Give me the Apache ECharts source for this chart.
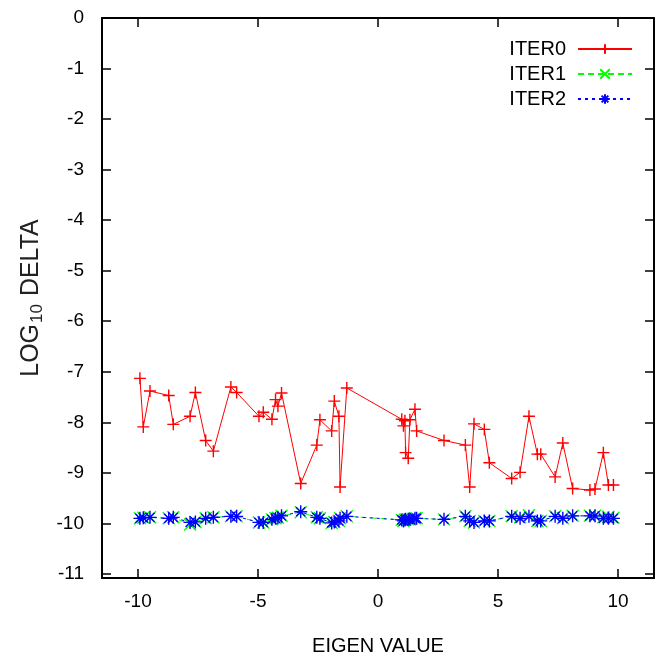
<!DOCTYPE html>
<html>
<head>
<meta charset="utf-8">
<script src="https://cdn.jsdelivr.net/npm/echarts@6/dist/echarts.min.js"></script>
<style>html,body{margin:0;padding:0;background:#fff}#c{width:662px;height:661px}</style>
</head>
<body>
<div id="c"></div>
<script>
var eigenValues = [-9.92,-9.78,-9.50,-8.72,-8.53,-7.83,-7.61,-7.18,-6.86,-6.13,-5.89,-4.96,-4.78,-4.42,-4.27,-4.17,-4.02,-3.22,-2.55,-2.42,-1.93,-1.82,-1.63,-1.58,-1.30,0.99,1.06,1.12,1.15,1.26,1.33,1.54,1.61,2.75,3.64,3.82,4.00,4.43,4.64,5.57,5.92,6.29,6.64,6.78,7.38,7.70,8.11,8.83,9.04,9.39,9.60,9.81];
var iter0 = [-7.13,-8.09,-7.38,-7.47,-8.04,-7.88,-7.41,-8.36,-8.57,-7.30,-7.41,-7.88,-7.80,-7.94,-7.55,-7.68,-7.42,-9.21,-8.45,-7.95,-8.17,-7.58,-7.88,-9.28,-7.32,-7.94,-8.07,-7.97,-8.60,-8.71,-7.95,-7.74,-8.17,-8.36,-8.45,-9.28,-8.03,-8.14,-8.80,-9.11,-8.99,-7.88,-8.63,-8.63,-9.08,-8.41,-9.31,-9.34,-9.32,-8.60,-9.24,-9.24];
var iter1 = [-9.90,-9.89,-9.88,-9.90,-9.88,-10.02,-9.97,-9.90,-9.88,-9.86,-9.86,-9.98,-9.98,-9.92,-9.90,-9.89,-9.85,-9.78,-9.88,-9.90,-9.99,-9.97,-9.95,-9.90,-9.86,-9.93,-9.95,-9.93,-9.92,-9.92,-9.92,-9.90,-9.90,-9.92,-9.86,-9.95,-9.98,-9.95,-9.95,-9.86,-9.88,-9.84,-9.95,-9.95,-9.86,-9.90,-9.85,-9.85,-9.85,-9.88,-9.87,-9.89];
var iter2 = [-9.90,-9.89,-9.88,-9.90,-9.88,-9.98,-9.97,-9.90,-9.88,-9.86,-9.86,-9.98,-9.98,-9.92,-9.90,-9.89,-9.85,-9.77,-9.88,-9.90,-9.99,-9.97,-9.95,-9.90,-9.86,-9.93,-9.95,-9.93,-9.92,-9.92,-9.92,-9.90,-9.90,-9.92,-9.86,-9.95,-9.98,-9.95,-9.95,-9.86,-9.90,-9.86,-9.95,-9.95,-9.86,-9.90,-9.85,-9.85,-9.85,-9.90,-9.90,-9.90];
var xTicks = [-10,-5,0,5,10];
var yTicks = [0,-1,-2,-3,-4,-5,-6,-7,-8,-9,-10,-11];
var seriesNames = ['ITER0','ITER1','ITER2'];

function pairs(ys){ return eigenValues.map(function(x,i){return [x, ys[i]];}); }

var FONT = '"Liberation Sans", Arial, sans-serif';
var plusPath = 'path://M0,5L10,5M5,0L5,10';
var crossPath = 'path://M0,0L10,10M10,0L0,10';
var starPath = 'path://M0,5L10,5M5,0L5,10M1.5,1.5L8.5,8.5M8.5,1.5L1.5,8.5';

function frameAxis(pos, isX){
  return {
    type:'value', position:pos,
    min: isX ? -11.5 : -11.08, max: isX ? 11.5 : 0,
    axisLine:{show:true, onZero:false, lineStyle:{color:'#000', width:2}},
    axisTick:{show:true, inside:true, length:9, lineStyle:{color:'#000', width:1.5}, customValues: isX ? xTicks : yTicks},
    axisLabel:{show:false, customValues: isX ? xTicks : yTicks},
    splitLine:{show:false}
  };
}

var xBottom = frameAxis('bottom', true);
xBottom.axisLabel = {show:true, customValues:xTicks, color:'#000', fontFamily:FONT, fontSize:19, margin:14};
xBottom.name = 'EIGEN VALUE';
xBottom.nameLocation = 'middle';
xBottom.nameGap = 58;
xBottom.nameTextStyle = {color:'#000', fontFamily:FONT, fontSize:20};
var xTop = frameAxis('top', true);

var yLeft = frameAxis('left', false);
yLeft.axisLabel = {show:true, customValues:yTicks, color:'#000', fontFamily:FONT, fontSize:19, margin:18};
yLeft.name = '{a|LOG}{s|10}{a| DELTA}';
yLeft.nameLocation = 'middle';
yLeft.nameGap = 50;
yLeft.nameTextStyle = {color:'#000', fontFamily:FONT, fontSize:25,
  rich:{a:{fontFamily:FONT, fontSize:25, color:'#222'}, s:{fontFamily:FONT, fontSize:17, color:'#222', padding:[12,1,0,1]}}};
var yRight = frameAxis('right', false);

var colors = ['#ff0000','#00ff00','#0000ff'];
var symbols = [plusPath, crossPath, starPath];
var dashes = ['solid', [6,4], [3,4]];
var datas = [iter0, iter1, iter2];
var sizes = [12, 12, 13];

var series = seriesNames.map(function(n,i){
  return {
    name:n, type:'line', xAxisIndex:0, yAxisIndex:0,
    data: pairs(datas[i]),
    symbol: symbols[i], symbolSize: sizes[i],
    showAllSymbol:true,
    lineStyle:{color:colors[i], width:1, type:dashes[i]},
    itemStyle:{color:'none', borderColor:colors[i], borderWidth:1.4},
    emphasis:{disabled:true},
    animation:false, z: 2+i
  };
});

var chart = echarts.init(document.getElementById('c'), null, {renderer:'canvas'});
chart.setOption({
  animation:false,
  backgroundColor:'#fff',
  grid:{left:102, top:18, right:8, bottom:82, containLabel:false},
  xAxis:[xBottom, xTop],
  yAxis:[yLeft, yRight],
  legend:{
    orient:'vertical', right:24, top:34, align:'right',
    itemWidth:54, itemHeight:12, itemGap:5,
    textStyle:{color:'#000', fontFamily:FONT, fontSize:20, lineHeight:20, padding:[0,7,0,0]},
    data: seriesNames
  },
  series: series
});
</script>
</body>
</html>
